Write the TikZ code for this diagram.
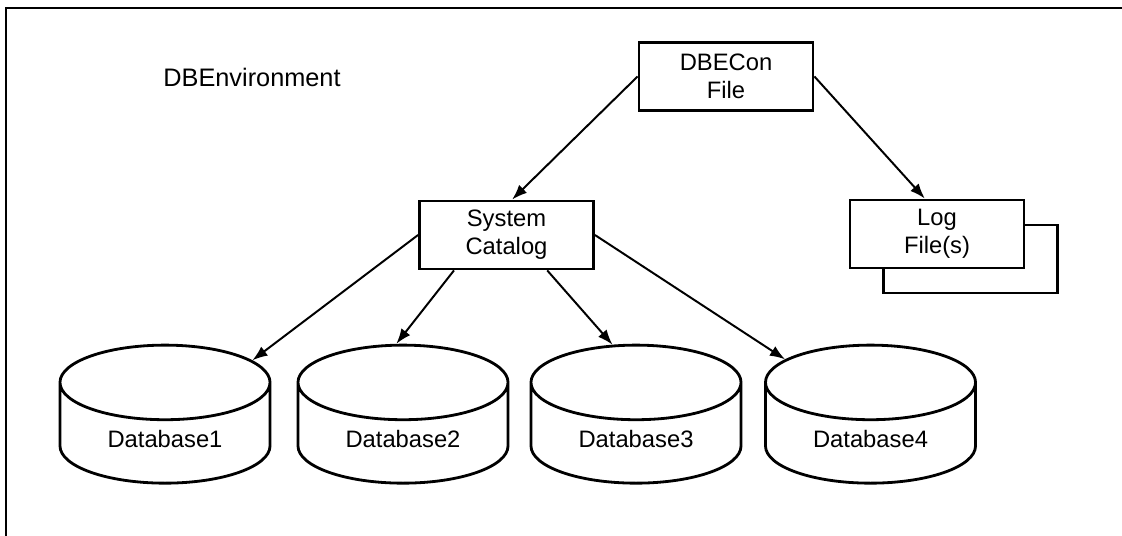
\documentclass[tikz,border=0pt]{standalone}
\usepackage{fontspec}
\setmainfont{Liberation Sans}
\usepackage{tikz}
\usetikzlibrary{arrows.meta,shapes.geometric,positioning}

\begin{document}
\begin{tikzpicture}
[x=0.025cm,y=-0.025cm,->,>={Latex[length=3.8mm,width=2.8mm]},
line width=1.4pt,
font=\fontsize{16.9}{20}\selectfont,
filebox/.style={
draw,fill=white,line width=2pt,
minimum width=4.35cm,
minimum height=1.7cm,
align=center},
dbase/.style={
cylinder,shape border rotate=90,aspect=0.6,
draw,line width=2pt,
minimum width=5.25cm,
minimum height=3.45cm}]
\useasboundingbox (0,0) rectangle (1122,536);
\draw[-,line width=2pt] (6,536) -- (6,8) -- (1122,8);

\node (env) at (252,87)[anchor=base,font=\fontsize{18}{20}\selectfont] {DBEnvironment};
\node (con) at (726,76.5)[filebox] {DBECon\\File};
\node (cat) at (506.5,235)[filebox] {System\\Catalog};
\node (logbk) at (970.5,259)[filebox] {};
\node (log) at (937,234)[filebox] {Log\\File(s)};
\node (db1) at (165,439)[dbase] {Database1};
\node (db2) at (403,439)[dbase] {Database2};
\node (db3) at (636,439)[dbase] {Database3};
\node (db4) at (870.5,439)[dbase] {Database4};

\draw (con.west) to (cat.81);
\draw (con.east) to (log.109);
\draw (cat.west) to (db1.42);
\draw (cat.214) to (db2.94);
\draw (cat.-41) to (db3.104);
\draw (cat.east) to (db4.137);

\end{tikzpicture}
\end{document}
